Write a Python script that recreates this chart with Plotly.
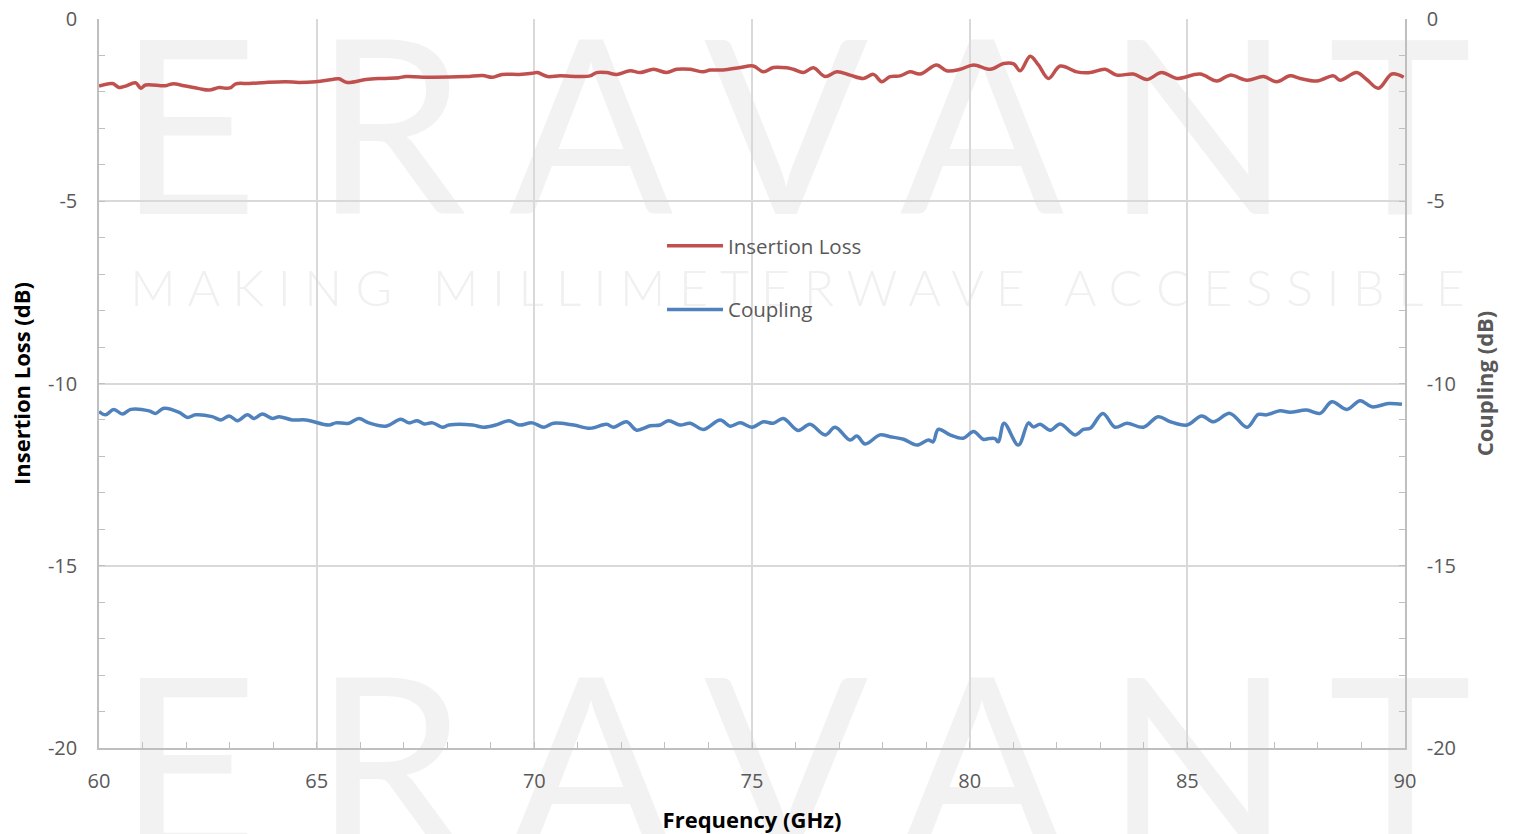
import plotly.graph_objects as go

# ---------------- data ----------------
il_freq = [60.00, 60.31, 60.46, 60.61, 60.84, 60.96, 61.07, 61.53, 61.68, 61.99, 62.30, 62.53, 62.76, 62.91,
           63.03, 63.14, 63.45, 63.83, 64.29, 64.59, 64.98, 65.36, 65.51, 65.70, 66.13, 66.51, 66.89, 67.05,
           67.66, 68.42, 68.81, 69.04, 69.26, 69.65, 69.95, 70.07, 70.30, 70.59, 71.05, 71.28, 71.43, 71.66,
           71.89, 72.20, 72.43, 72.74, 73.04, 73.27, 73.58, 73.88, 74.04, 74.34, 74.73, 75.03, 75.26, 75.49,
           75.80, 75.95, 76.18, 76.41, 76.68, 76.95, 77.25, 77.56, 77.79, 77.98, 78.17, 78.40, 78.63, 78.86,
           79.24, 79.47, 79.78, 80.09, 80.47, 80.78, 81.01, 81.16, 81.39, 81.58, 81.81, 82.08, 82.46, 82.77,
           83.11, 83.38, 83.76, 84.07, 84.41, 84.76, 85.29, 85.68, 85.98, 86.37, 86.75, 87.05, 87.36, 87.59,
           87.98, 88.36, 88.51, 88.89, 89.12, 89.39, 89.70, 89.97]
il_vals = [-1.84, -1.77, -1.88, -1.84, -1.75, -1.90, -1.81, -1.83, -1.78, -1.84, -1.91, -1.95, -1.88, -1.90,
           -1.88, -1.78, -1.77, -1.74, -1.72, -1.74, -1.72, -1.66, -1.64, -1.74, -1.66, -1.63, -1.61, -1.58,
           -1.60, -1.58, -1.55, -1.60, -1.52, -1.52, -1.49, -1.47, -1.58, -1.56, -1.58, -1.56, -1.47, -1.47,
           -1.52, -1.42, -1.47, -1.38, -1.47, -1.38, -1.38, -1.45, -1.40, -1.40, -1.33, -1.29, -1.45, -1.33,
           -1.34, -1.38, -1.47, -1.34, -1.58, -1.45, -1.54, -1.63, -1.52, -1.72, -1.58, -1.56, -1.45, -1.51,
           -1.26, -1.42, -1.38, -1.26, -1.38, -1.22, -1.23, -1.42, -1.02, -1.26, -1.63, -1.29, -1.45, -1.47,
           -1.38, -1.54, -1.51, -1.66, -1.47, -1.63, -1.51, -1.70, -1.54, -1.68, -1.58, -1.72, -1.56, -1.63,
           -1.70, -1.56, -1.68, -1.47, -1.66, -1.90, -1.51, -1.60]

cp_freq = [60.00, 60.15, 60.34, 60.54, 60.73, 61.15, 61.30, 61.49, 61.84, 62.03, 62.22, 62.60, 62.80, 62.99,
           63.18, 63.41, 63.56, 63.75, 63.98, 64.14, 64.44, 64.75, 65.28, 65.44, 65.74, 65.97, 66.20, 66.59,
           66.93, 67.12, 67.31, 67.47, 67.66, 67.89, 68.04, 68.58, 68.84, 69.11, 69.42, 69.65, 69.95, 70.22,
           70.44, 70.90, 71.28, 71.66, 71.82, 72.12, 72.35, 72.66, 72.89, 73.08, 73.35, 73.58, 73.88, 74.27,
           74.50, 74.73, 75.00, 75.26, 75.49, 75.72, 76.06, 76.33, 76.68, 76.91, 77.25, 77.41, 77.60, 77.94,
           78.17, 78.48, 78.79, 79.05, 79.16, 79.28, 79.55, 79.85, 80.09, 80.31, 80.45, 80.58, 80.66, 80.79,
           81.12, 81.35, 81.46, 81.62, 81.85, 82.08, 82.42, 82.61, 82.77, 83.06, 83.34, 83.61, 83.99, 84.33,
           84.61, 84.99, 85.33, 85.60, 85.98, 86.37, 86.63, 86.82, 87.13, 87.36, 87.74, 88.05, 88.32, 88.66,
           88.97, 89.24, 89.62, 89.93]
cp_vals = [-10.77, -10.86, -10.71, -10.84, -10.71, -10.75, -10.82, -10.68, -10.79, -10.93, -10.86, -10.91, -11.00, -10.89,
           -11.02, -10.86, -10.96, -10.84, -10.96, -10.91, -11.00, -11.00, -11.14, -11.08, -11.09, -10.96, -11.08, -11.17,
           -10.98, -11.08, -11.02, -11.11, -11.08, -11.20, -11.14, -11.14, -11.20, -11.14, -11.02, -11.14, -11.08, -11.20,
           -11.09, -11.14, -11.23, -11.12, -11.20, -11.05, -11.28, -11.16, -11.14, -11.02, -11.14, -11.09, -11.26, -11.00,
           -11.17, -11.08, -11.20, -11.05, -11.09, -10.96, -11.29, -11.12, -11.41, -11.20, -11.55, -11.44, -11.66, -11.41,
           -11.46, -11.53, -11.69, -11.55, -11.60, -11.26, -11.41, -11.50, -11.32, -11.53, -11.51, -11.51, -11.60, -11.09,
           -11.69, -11.08, -11.19, -11.12, -11.28, -11.11, -11.41, -11.26, -11.23, -10.82, -11.20, -11.09, -11.20, -10.91,
           -11.05, -11.14, -10.89, -11.05, -10.82, -11.20, -10.85, -10.86, -10.75, -10.79, -10.73, -10.82, -10.50, -10.71,
           -10.47, -10.64, -10.55, -10.57]

x_ticks = [60, 65, 70, 75, 80, 85, 90]
x_labels = ["60", "65", "70", "75", "80", "85", "90"]
y_ticks = [0, -5, -10, -15, -20]
y_labels = ["0", "-5", "-10", "-15", "-20"]

wm_letters = ["E", "R", "A", "V", "A", "N", "T"]
wm_tagline = "M A K I N G   M I L L I M E T E R W A V E   A C C E S S I B L E"

# ---------------- figure ----------------
RED = "#C0504D"
BLUE = "#4F81BD"
GRID = "#D9D9D9"
AXIS = "#BFBFBF"
TXT = "#595959"
FONT = "Open Sans"

fig = go.Figure()
fig.add_trace(go.Scatter(x=il_freq, y=il_vals, mode="lines", name="Insertion Loss",
                         line=dict(color=RED, width=3.5, shape="spline", smoothing=1.0),
                         legendgroup="a", yaxis="y"))
fig.add_trace(go.Scatter(x=cp_freq, y=cp_vals, mode="lines", name="Coupling",
                         line=dict(color=BLUE, width=3.5, shape="spline", smoothing=1.0),
                         legendgroup="b", yaxis="y2"))

W, H = 1514, 834
# plot area in window pixels
L, R, T, B = 99, 1405, 19, 748


def px2paper(px, py):
    return (px - L) / (R - L), 1 - (py - T) / (B - T)


# watermark letters (drawn below grid)
letter_cx = [188, 390, 591, 786, 982, 1198, 1400]
shapes = []
for row_cy in (117, 755):
    for ch, cx in zip(wm_letters, letter_cx):
        x0, y0 = px2paper(cx - 95, row_cy + 100)
        x1, y1 = px2paper(cx + 95, row_cy - 100)
        shapes.append(dict(type="rect", xref="paper", yref="paper", x0=x0, x1=x1, y0=y0, y1=y1,
                           layer="below", line=dict(width=0), fillcolor="rgba(0,0,0,0)",
                           label=dict(text=ch, textposition="middle center",
                                      font=dict(family="Lato", size=243, color="#F2F2F2"))))
tx0, ty0 = px2paper(120, 318)
tx1, ty1 = px2paper(1475, 254)
shapes.append(dict(type="rect", xref="paper", yref="paper", x0=tx0, x1=tx1, y0=ty0, y1=ty1,
                   layer="below", line=dict(width=0), fillcolor="rgba(0,0,0,0)",
                   label=dict(text=wm_tagline, textposition="middle center",
                              font=dict(family="Lato", size=50, color="#F0F0F0", weight=300))))

fig.update_layout(
    width=W, height=H,
    margin=dict(l=L, r=W - R, t=T, b=H - B, autoexpand=False),
    paper_bgcolor="white", plot_bgcolor="rgba(0,0,0,0)",
    font=dict(family=FONT, size=20, color=TXT),
    shapes=shapes,
    showlegend=True,
    legend=dict(x=(662 - L) / (R - L), y=1 - (226 - T) / (B - T), xanchor="left", yanchor="top",
                bgcolor="rgba(0,0,0,0)", font=dict(family=FONT, size=20.5, color=TXT),
                tracegroupgap=34, itemwidth=56),
    xaxis=dict(range=[60, 90], tickvals=x_ticks, ticktext=x_labels,
               showgrid=True, gridcolor=GRID, gridwidth=1.5,
               showline=True, linecolor=AXIS, linewidth=1.5,
               ticks="inside", ticklen=6, tickcolor=AXIS, ticklabelstandoff=14,
               ticklabeloverflow="allow",
               minor=dict(dtick=1, ticks="inside", ticklen=6, tickcolor=AXIS, showgrid=False),
               zeroline=False, tickfont=dict(size=20, color=TXT),
               title=dict(text="<b>Frequency (GHz)</b>", font=dict(size=22, color="black"), standoff=22)),
    yaxis=dict(range=[-20, 0], tickvals=y_ticks, ticktext=y_labels,
               showgrid=True, gridcolor=GRID, gridwidth=1.5,
               showline=True, linecolor=AXIS, linewidth=1.5,
               ticks="inside", ticklen=6, tickcolor=AXIS, ticklabelstandoff=16,
               ticklabeloverflow="allow",
               minor=dict(dtick=1, ticks="inside", ticklen=6, tickcolor=AXIS, showgrid=False),
               zeroline=False, tickfont=dict(size=20, color=TXT),
               title=dict(text="<b>Insertion Loss (dB)</b>", font=dict(size=22, color="black"), standoff=11)),
    yaxis2=dict(range=[-20, 0], tickvals=y_ticks, ticktext=y_labels, overlaying="y", side="right",
                showgrid=False, showline=True, linecolor=AXIS, linewidth=1.5,
                ticks="inside", ticklen=6, tickcolor=AXIS, ticklabelstandoff=16,
                ticklabeloverflow="allow",
                minor=dict(dtick=1, ticks="inside", ticklen=6, tickcolor=AXIS, showgrid=False),
                zeroline=False, tickfont=dict(size=20, color=TXT),
                title=dict(text="<b>Coupling (dB)</b>", font=dict(size=22, color=TXT), standoff=23)),
)

# remove the default page margin so the figure fills the window exactly
fig.write_html("out.html", config={"displayModeBar": False},
               post_script="document.body.style.margin='0px';document.body.style.overflow='hidden';")
